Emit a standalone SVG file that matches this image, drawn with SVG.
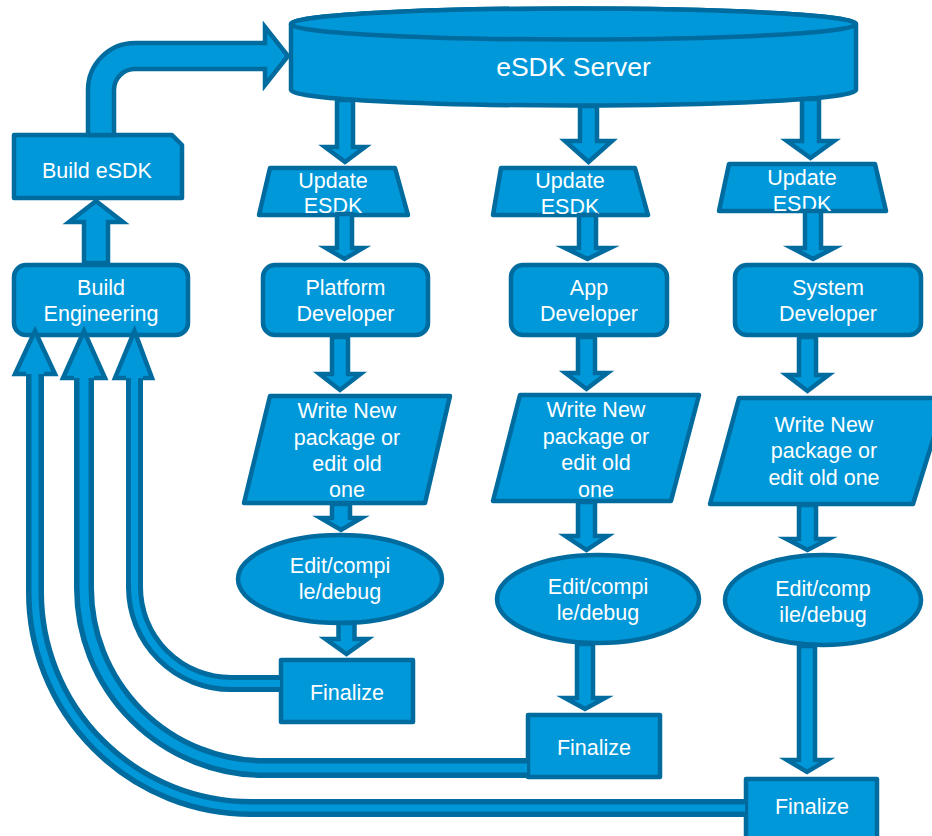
<svg xmlns="http://www.w3.org/2000/svg" width="932" height="836" viewBox="0 0 932 836">
<style>
.n{fill:#0098D9;stroke:#006B9E;stroke-width:4.5;stroke-linejoin:round}
.a{fill:#0098D9;stroke:#006B9E;stroke-width:4.5;stroke-linejoin:miter;stroke-miterlimit:10}
.lo{fill:none;stroke:#006B9E}
.li{fill:none;stroke:#0098D9}
.t{fill:#fff;font-family:"Liberation Sans",Arial,sans-serif;font-size:21.5px;text-anchor:middle}
.big{font-size:26.5px}
</style>
<rect width="932" height="836" fill="#fff"/>
<g id="esdk-server">
<path class="n" d="M291,24 A282.5,15.5 0 0 1 856,24 V90 A282.5,15.5 0 0 1 291,90 Z"/>
<ellipse class="n" cx="573.5" cy="24" rx="282.5" ry="15.5"/>
<text class="t big" x="573.5" y="76">eSDK Server</text>
</g>
<g id="build-esdk">
<path class="n" d="M14,135 H172 L182,145 V198 H14 Z"/>
<text class="t" x="97" y="178">Build eSDK</text>
</g>
<g id="build-engineering">
<rect class="n" x="14" y="265" width="174" height="70" rx="12"/>
<text class="t" x="101" y="295">Build</text>
<text class="t" x="101" y="321">Engineering</text>
</g>
<g id="update-1">
<polygon class="n" points="270,168 395,168 408,215 259,215"/>
<text class="t" x="333" y="188">Update</text>
<text class="t" x="333" y="213">ESDK</text>
</g>
<g id="update-2">
<polygon class="n" points="501,168 635,168 648,215 493,215"/>
<text class="t" x="570" y="188">Update</text>
<text class="t" x="570" y="214">ESDK</text>
</g>
<g id="update-3">
<polygon class="n" points="729,164 875,164 886,211 719,211"/>
<text class="t" x="802" y="185">Update</text>
<text class="t" x="802" y="211">ESDK</text>
</g>
<g id="platform-developer">
<rect class="n" x="263" y="265" width="165" height="70" rx="12"/>
<text class="t" x="345.5" y="295">Platform</text>
<text class="t" x="345.5" y="321">Developer</text>
</g>
<g id="app-developer">
<rect class="n" x="511" y="265" width="156" height="70" rx="12"/>
<text class="t" x="589" y="295">App</text>
<text class="t" x="589" y="321">Developer</text>
</g>
<g id="system-developer">
<rect class="n" x="735" y="265" width="186" height="70" rx="12"/>
<text class="t" x="828" y="295">System</text>
<text class="t" x="828" y="321">Developer</text>
</g>
<g id="write-1">
<polygon class="n" points="270,396 450,396 425,503 244,503"/>
<text class="t" x="347" y="418">Write New</text>
<text class="t" x="347" y="445">package or</text>
<text class="t" x="347" y="471">edit old</text>
<text class="t" x="347" y="497">one</text>
</g>
<g id="write-2">
<polygon class="n" points="520,395 699,395 671,501 493,501"/>
<text class="t" x="596" y="417">Write New</text>
<text class="t" x="596" y="443.5">package or</text>
<text class="t" x="596" y="470">edit old</text>
<text class="t" x="596" y="496.5">one</text>
</g>
<g id="write-3">
<polygon class="n" points="739,398 946,398 913,504 710,504"/>
<text class="t" x="824" y="432">Write New</text>
<text class="t" x="824" y="458">package or</text>
<text class="t" x="824" y="485">edit old one</text>
</g>
<g id="edit-1">
<ellipse class="n" cx="340" cy="579" rx="102" ry="44"/>
<text class="t" x="340" y="573">Edit/compi</text>
<text class="t" x="340" y="599">le/debug</text>
</g>
<g id="edit-2">
<ellipse class="n" cx="598" cy="599" rx="101" ry="44"/>
<text class="t" x="598" y="594">Edit/compi</text>
<text class="t" x="598" y="620">le/debug</text>
</g>
<g id="edit-3">
<ellipse class="n" cx="823" cy="600" rx="98" ry="45"/>
<text class="t" x="823" y="596">Edit/comp</text>
<text class="t" x="823" y="622">ile/debug</text>
</g>
<g id="finalize-1">
<rect class="n" x="281" y="660" width="132" height="62"/>
<text class="t" x="347" y="700">Finalize</text>
</g>
<g id="finalize-2">
<rect class="n" x="528" y="715" width="132" height="62"/>
<text class="t" x="594" y="755">Finalize</text>
</g>
<g id="finalize-3">
<rect class="n" x="746" y="779" width="131" height="62"/>
<text class="t" x="812" y="814">Finalize</text>
</g>
<g id="connectors">
<path class="a" d="M88,135 V90 A47,47 0 0 1 135,43 H265 V27 L288,56 L265,85 V69 H135 A21,21 0 0 0 114,90 V135 Z"/>
<polygon class="a" points="84,263 108,263 108,222 123,222 96,201 69,222 84,222"/>
<polygon class="a" points="337,100 353,100 353,147 365,147 345,162 325,147 337,147"/>
<polygon class="a" points="580,106 597,106 597,141 612,141 588.5,162 565,141 580,141"/>
<polygon class="a" points="802,99 819,99 819,141 834,141 810.5,158 787,141 802,141"/>
<polygon class="a" points="337,214 352,214 352,248 363,248 344.5,259 326,248 337,248"/>
<polygon class="a" points="579,215 596,215 596,248 610,248 587.5,259 565,248 579,248"/>
<polygon class="a" points="805,211 821,211 821,248 834,248 813,259 792,248 805,248"/>
<polygon class="a" points="332,337 348,337 348,374 360.5,374 340,390 319.5,374 332,374"/>
<polygon class="a" points="578,337 595,337 595,373 607.5,373 586.5,389 565.5,373 578,373"/>
<polygon class="a" points="799,337 816,337 816,375 828.5,375 807.5,391 786.5,375 799,375"/>
<polygon class="a" points="332,504 350,504 350,518 361.5,518 341,530 320.5,518 332,518"/>
<polygon class="a" points="578,502 595,502 595,536 607.5,536 586.5,550 565.5,536 578,536"/>
<polygon class="a" points="799,505 816,505 816,539 828.5,539 807.5,550 786.5,539 799,539"/>
<polygon class="a" points="338.5,623 354.5,623 354.5,639 367.5,639 346.5,654 325.5,639 338.5,639"/>
<polygon class="a" points="577,644 593,644 593,698 605,698 585,709 565,698 577,698"/>
<polygon class="a" points="799,646 815,646 815,760 827,760 807,772 787,760 799,760"/>
<path class="lo" stroke-width="18" d="M35,373 V592 A216,216 0 0 0 251,808 H745"/>
<path class="li" stroke-width="7" d="M35,373 V592 A216,216 0 0 0 251,808 H745"/>
<path class="lo" stroke-width="20" d="M84,376 V588 A180,180 0 0 0 264,768 H527"/>
<path class="li" stroke-width="9" d="M84,376 V588 A180,180 0 0 0 264,768 H527"/>
<path class="lo" stroke-width="17" d="M134.5,376 V587 A96.5,96.5 0 0 0 231,683.5 H280"/>
<path class="li" stroke-width="7" d="M134.5,376 V587 A96.5,96.5 0 0 0 231,683.5 H280"/>
<path class="a" d="M26,374 H15 L35,331 L55,374 H44"/>
<path class="a" d="M74,378 H63 L84,331 L105,378 H94"/>
<path class="a" d="M126,378 H115 L134.5,331 L152,378 H143"/>
</g>
</svg>
